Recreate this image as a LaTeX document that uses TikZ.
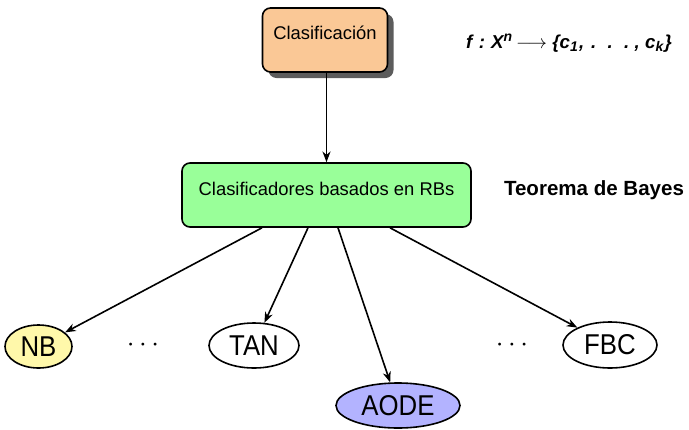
\documentclass[tikz,border=0pt]{standalone}
\usepackage{fontspec}
\setmainfont{Liberation Sans}
\newfontfamily\narrowfont{Liberation Sans}[FakeStretch=0.9]
\usetikzlibrary{arrows.meta,shapes.geometric,shadows,calc}
\definecolor{peach}{RGB}{250,200,150}
\definecolor{mint}{RGB}{153,255,153}
\definecolor{pale}{RGB}{255,248,170}
\definecolor{lav}{RGB}{179,179,255}
\newcommand{\myup}[1]{\raisebox{5pt}{\fontsize{10.5}{12}\selectfont #1}}
\newcommand{\mydown}[1]{\raisebox{-2.5pt}{\fontsize{10.5}{12}\selectfont #1}}
\begin{document}
\begin{tikzpicture}[x=0.75pt,y=-0.75pt,
  box/.style={draw, line width=1.2pt, rounded corners=6pt, inner xsep=0pt, inner ysep=0pt,
    font=\fontsize{13.8}{16}\selectfont, anchor=base},
  leaf/.style={ellipse, draw, line width=1.2pt, inner sep=0pt,
    font=\narrowfont\fontsize{21.5}{24}\selectfont},
  dotsnode/.style={inner sep=0pt, font=\fontsize{21}{24}\selectfont},
  link/.style={-{Stealth[length=8pt,width=6pt,inset=2.5pt]}, line width=1.2pt}]
\useasboundingbox (0,0) rectangle (689,429);

\node[box, fill=peach,
  drop shadow={shadow xshift=4.5pt, shadow yshift=-4.5pt, fill=black!75, opacity=0.85},
  minimum width=93.75pt, text height=23.25pt, text depth=24.75pt] (clas) at (325,39) {Clasificación};

\node[inner sep=0pt, anchor=base, font=\bfseries\itshape\fontsize{14}{17}\selectfont] (fx) at (569,48)
  {f\hspace{5pt}:\hspace{4.5pt}X\myup{n}\hspace{3pt}$\longrightarrow$\hspace{4pt}\{c\mydown{1}\hspace{1pt},\hspace{5pt}.\hspace{8.5pt}.\hspace{8.5pt}.\hspace{4pt},\hspace{4pt}c\mydown{k}\hspace{1pt}\}};

\node[box, fill=mint, minimum width=216.75pt, text height=24pt, text depth=24pt] (rb) at (326.5,195)
  {Clasificadores basados en RBs};

\node[inner sep=0pt, anchor=base, font=\bfseries\fontsize{15.4}{18}\selectfont] (bayes) at (594,195)
  {Teorema de Bayes};

\node[leaf, fill=pale, minimum width=50.25pt, minimum height=32.25pt] (nb) at (38.5,346.5) {NB};
\node[leaf, minimum width=67.5pt, minimum height=33.75pt] (tan) at (254,345.5) {TAN};
\node[leaf, fill=lav, minimum width=93pt, minimum height=33.75pt] (aode) at (398,405.5) {AODE};
\node[leaf, minimum width=70.5pt, minimum height=34.5pt] (fbc) at (610,345) {FBC};

\node[dotsnode] (d1) at (143,345) {$\cdots$};
\node[dotsnode] (d2) at (512,345) {$\cdots$};

\coordinate (s1) at ($(rb.south)+(-64.5,0)$);
\coordinate (s2) at ($(rb.south)+(-18.5,0)$);
\coordinate (s3) at ($(rb.south)+(11.5,0)$);
\coordinate (s4) at ($(rb.south)+(63.5,0)$);

\draw[link] (rb.north |- clas.south) -- (rb.north);
\draw[link] (s1) -- (nb);
\draw[link] (s2) -- (tan);
\draw[link] (s3) -- (aode);
\draw[link] (s4) -- (fbc);
\end{tikzpicture}
\end{document}
